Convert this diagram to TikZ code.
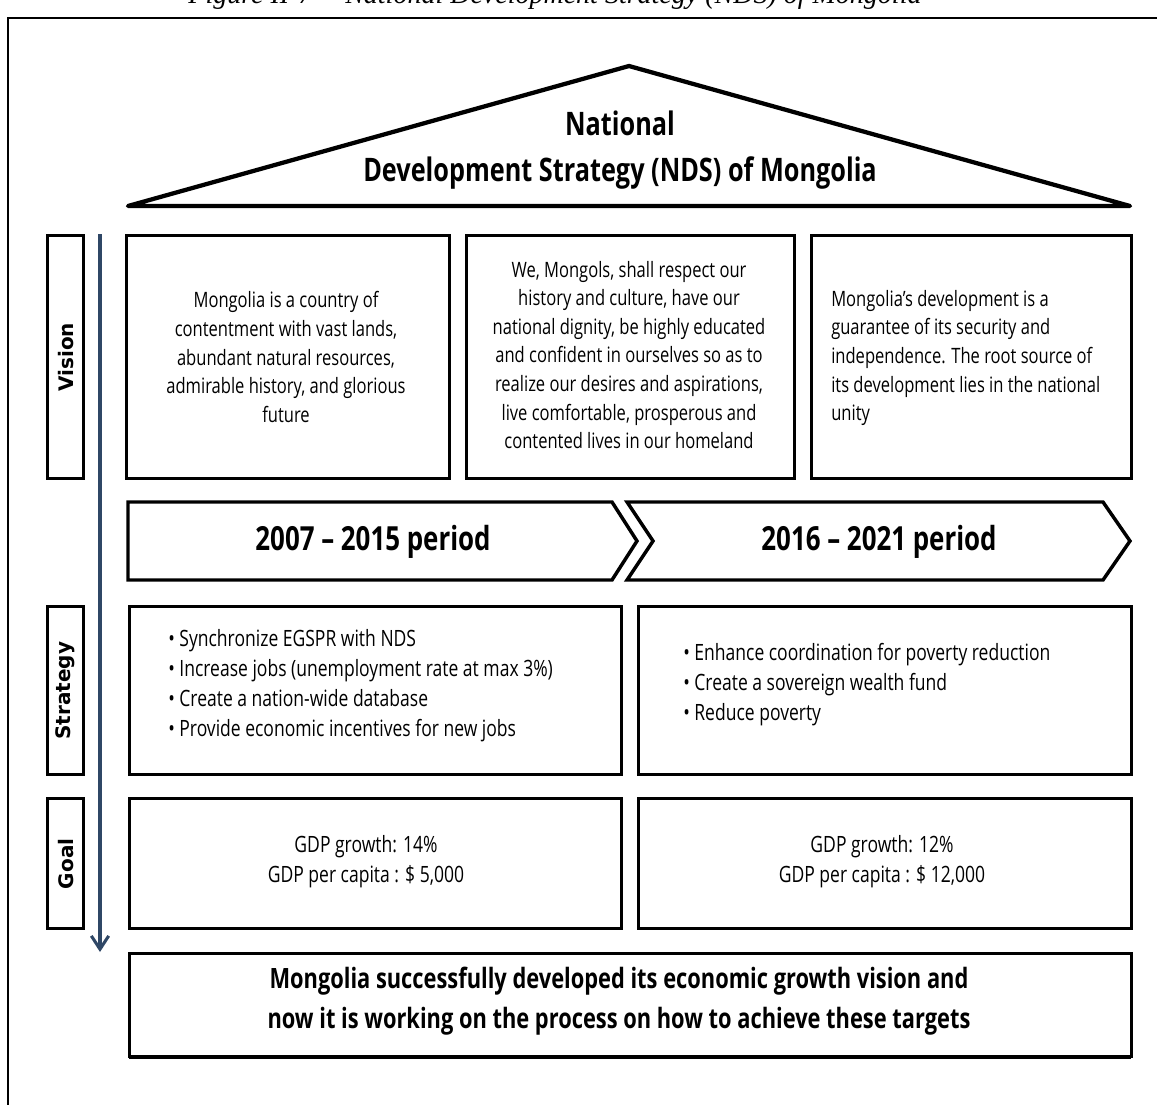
\documentclass[tikz,border=0pt]{standalone}
\usepackage{fontspec}
\setmainfont{Open Sans}[FakeStretch=0.78]
\newfontfamily\capfont{Liberation Serif}
\newfontfamily\labfont{DejaVu Sans}
\usetikzlibrary{arrows.meta}
\definecolor{flowblue}{HTML}{2F4766}

\tikzset{
  panel/.style={draw, line width=2.6pt, inner sep=0pt, anchor=north west},
  banner/.style={draw, line width=2.6pt, line join=miter},
  bodytext/.style={font=\fontsize{15.9}{21.4}\selectfont, inner sep=0pt},
  listtext/.style={font=\fontsize{16.85}{22.5}\selectfont, inner sep=0pt, align=left},
  headtext/.style={font=\bfseries\fontsize{24.3}{34}\selectfont, inner sep=0pt},
  periodtext/.style={font=\bfseries\fontsize{24.9}{30}\selectfont, inner sep=0pt},
  rowlabel/.style={font=\labfont\bfseries\fontsize{15}{18}\selectfont, rotate=90, inner sep=0pt},
}

% rectangle node from its top-left and bottom-right corners (pixel grid)
\newcommand\panelbox[5]{%
  \node[panel, minimum width={(#4-#2)*0.75pt}, minimum height={(#5-#3)*0.75pt}] (#1) at (#2,#3) {};}

\begin{document}
\begin{tikzpicture}[x=0.75pt, y=-0.75pt]
\useasboundingbox (0,0) rectangle (1157,1104);

% caption above the frame
\node[anchor=base, inner sep=0pt, font=\capfont\itshape\fontsize{21}{25}\selectfont] (caption) at (555,3)
  {Figure II-7 -- National Development Strategy (NDS) of Mongolia};

% outer frame
\draw[line width=1.5pt] (8,1120) -- (8,18) -- (1170,18);

% roof
\coordinate (roofL) at (128,206);
\coordinate (roofT) at (629,66);
\coordinate (roofR) at (1130,206);
\draw[line width=3.2pt, line join=round] (roofL) -- (roofT) -- (roofR) -- cycle;
\node[headtext, align=center] (title) at (620,150)
  {National\\Development Strategy (NDS) of Mongolia};

% row labels
\panelbox{labV}{46}{234}{82}{477}
\panelbox{labS}{46}{605}{82}{773}
\panelbox{labG}{46}{797}{82}{927}
\node[rowlabel] (tV) at (labV.center) {Vision};
\node[rowlabel] (tS) at (labS.center) {Strategy};
\node[rowlabel] (tG) at (labG.center) {Goal};

% time flow
\coordinate (flowtop) at (100,234);
\coordinate (flowend) at (100,952);
\draw[flowblue, line width=2.3pt, -{Straight Barb[length=10pt, width=13pt, line width=2.3pt]}] (flowtop) -- (flowend);

% vision panels
\panelbox{vis1}{125}{234}{448}{477}
\panelbox{vis2}{465}{234}{793}{477}
\panelbox{vis3}{810}{234}{1130}{477}
\node[bodytext, align=center] (vt1) at (286,357)
  {Mongolia is a country of\\contentment with vast lands,\\abundant natural resources,\\admirable history, and glorious\\future};
\node[bodytext, align=center] (vt2) at (629,355)
  {We, Mongols, shall respect our\\history and culture, have our\\national dignity, be highly educated\\and confident in ourselves so as to\\realize our desires and aspirations,\\live comfortable, prosperous and\\contented lives in our homeland};
\node[bodytext, align=left, anchor=west] (vt3) at (831,358)
  {Mongolia's development is a\\guarantee of its security and\\independence. The root source of\\its development lies in the national\\unity};

% period banners
\draw[banner] (128,502) -- (612,502) -- (637,541) -- (612,580) -- (128,580) -- cycle;
\draw[banner] (627,502) -- (1103,502) -- (1130,541) -- (1103,580) -- (627,580) -- (653,541) -- cycle;
\node[periodtext] (p1) at (373,542) {2007 -- 2015 period};
\node[periodtext] (p2) at (879,542) {2016 -- 2021 period};

% strategy panels
\panelbox{str1}{128}{605}{620}{773}
\panelbox{str2}{637}{605}{1130}{773}
\node[listtext, anchor=west] (st1) at (168,686)
  {• Synchronize EGSPR with NDS\\• Increase jobs (unemployment rate at max 3\%)\\• Create a nation-wide database\\• Provide economic incentives for new jobs};
\node[listtext, anchor=west] (st2) at (683,685)
  {• Enhance coordination for poverty reduction\\• Create a sovereign wealth fund\\• Reduce poverty};

% goal panels
\panelbox{goal1}{128}{797}{620}{927}
\panelbox{goal2}{637}{797}{1130}{927}
\node[listtext, align=center] (gt1) at (366,862) {GDP growth: 14\%\\GDP per capita : \$ 5,000};
\node[listtext, align=center] (gt2) at (882,862) {GDP growth: 12\%\\GDP per capita : \$ 12,000};

% conclusion
\draw[line width=2.6pt] (129,1057) -- (1131,1057);
\panelbox{concl}{128}{952}{1130}{1055}
\node[font=\bfseries\fontsize{21}{30}\selectfont, align=center, inner sep=0pt] (ct) at (619,1001)
  {Mongolia successfully developed its economic growth vision and\\now it is working on the process on how to achieve these targets};
\end{tikzpicture}
\end{document}
